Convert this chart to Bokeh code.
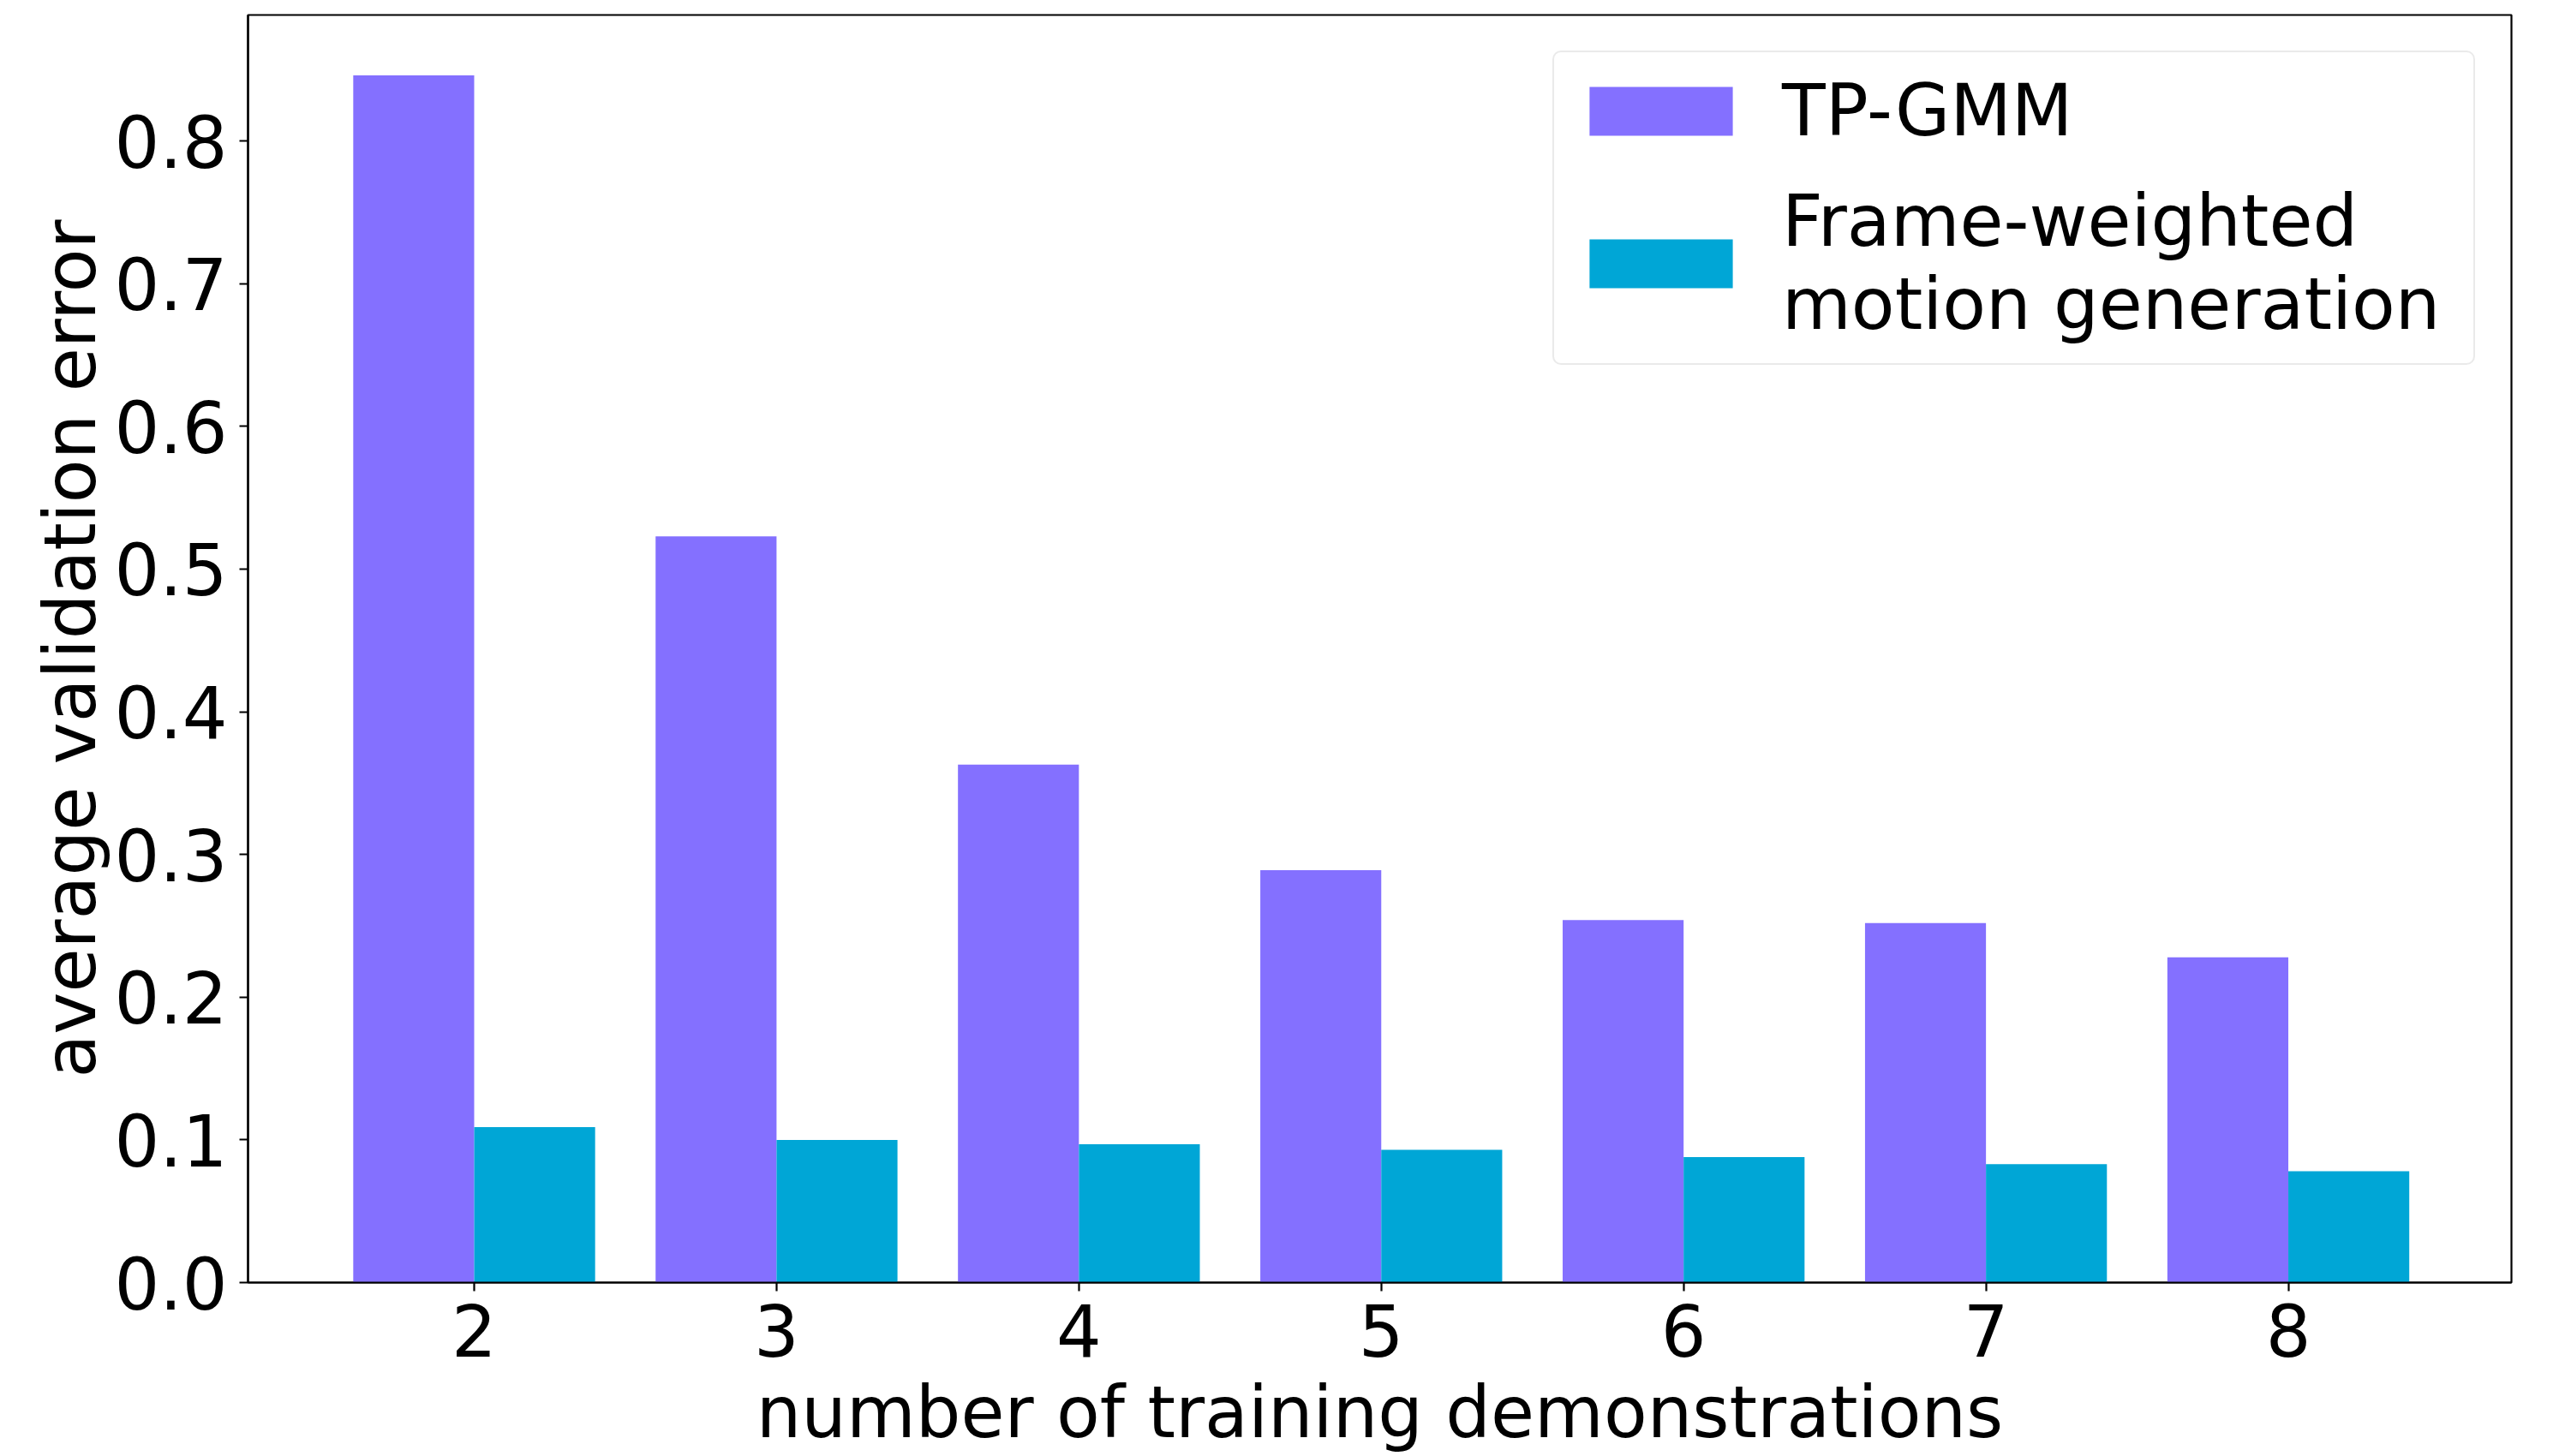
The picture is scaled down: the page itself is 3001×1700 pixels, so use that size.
from bokeh.plotting import figure
from bokeh.models import ColumnDataSource, Range1d, FixedTicker, NumeralTickFormatter, Legend, LegendItem
from bokeh.transform import dodge
from bokeh.embed import file_html
from bokeh.resources import INLINE

demos = [2, 3, 4, 5, 6, 7, 8]
tp_gmm = [0.846, 0.523, 0.363, 0.289, 0.254, 0.252, 0.228]
frame_weighted = [0.109, 0.100, 0.097, 0.093, 0.088, 0.083, 0.078]
series_names = ["TP-GMM", "Frame-weighted\nmotion generation"]
colors = ["#8470FF", "#00A6D6"]
y_ticks = [0.0, 0.1, 0.2, 0.3, 0.4, 0.5, 0.6, 0.7, 0.8]
x_label = "number of training demonstrations"
y_label = "average validation error"

FONT = "DejaVu Sans"
FS = "83px"

src = ColumnDataSource(dict(x=demos, tp=tp_gmm, fw=frame_weighted))

p = figure(width=3001, height=1700, output_backend="svg", toolbar_location=None,
           x_range=Range1d(1.252, 8.738), y_range=Range1d(0.0, 0.8883),
           min_border_left=289, min_border_right=70, min_border_top=17, min_border_bottom=203)

r1 = p.vbar(x=dodge("x", -0.2, range=p.x_range), top="tp", width=0.4, source=src,
            fill_color=colors[0], line_color=None)
r2 = p.vbar(x=dodge("x", 0.2, range=p.x_range), top="fw", width=0.4, source=src,
            fill_color=colors[1], line_color=None)

p.xgrid.visible = False
p.ygrid.visible = False
p.outline_line_color = "black"
p.outline_line_width = 2.2
p.background_fill_color = "white"
p.border_fill_color = "white"

for ax in (p.xaxis[0], p.yaxis[0]):
    ax.major_label_text_font = FONT
    ax.major_label_text_font_size = FS
    ax.major_label_text_color = "black"
    ax.axis_label_text_font = FONT
    ax.axis_label_text_font_size = FS
    ax.axis_label_text_font_style = "normal"
    ax.axis_label_text_color = "black"
    ax.axis_line_color = "black"
    ax.axis_line_width = 2.2
    ax.major_tick_line_color = "black"
    ax.major_tick_line_width = 2.2
    ax.major_tick_out = 10
    ax.major_tick_in = 0
    ax.minor_tick_line_color = None

p.xaxis[0].ticker = FixedTicker(ticks=demos)
p.xaxis[0].axis_label = x_label
p.xaxis[0].major_label_standoff = 14
p.xaxis[0].axis_label_standoff = 14

p.yaxis[0].ticker = FixedTicker(ticks=y_ticks)
p.yaxis[0].formatter = NumeralTickFormatter(format="0.0")
p.yaxis[0].axis_label = y_label
p.yaxis[0].major_label_standoff = 14
p.yaxis[0].axis_label_standoff = 0

legend = Legend(items=[LegendItem(label=series_names[0], renderers=[r1]),
                       LegendItem(label=series_names[1], renderers=[r2])],
                location="top_right", margin=42, padding=20, spacing=32,
                glyph_width=209, glyph_height=71, label_standoff=37, label_width=787,
                label_text_font=FONT, label_text_font_size=FS, label_text_color="black",
                border_line_color="#d6d6d6", border_line_width=2.2, border_radius=10,
                background_fill_color="white", background_fill_alpha=0.8)
p.add_layout(legend)

open("out.html", "w").write(file_html(p, INLINE))
